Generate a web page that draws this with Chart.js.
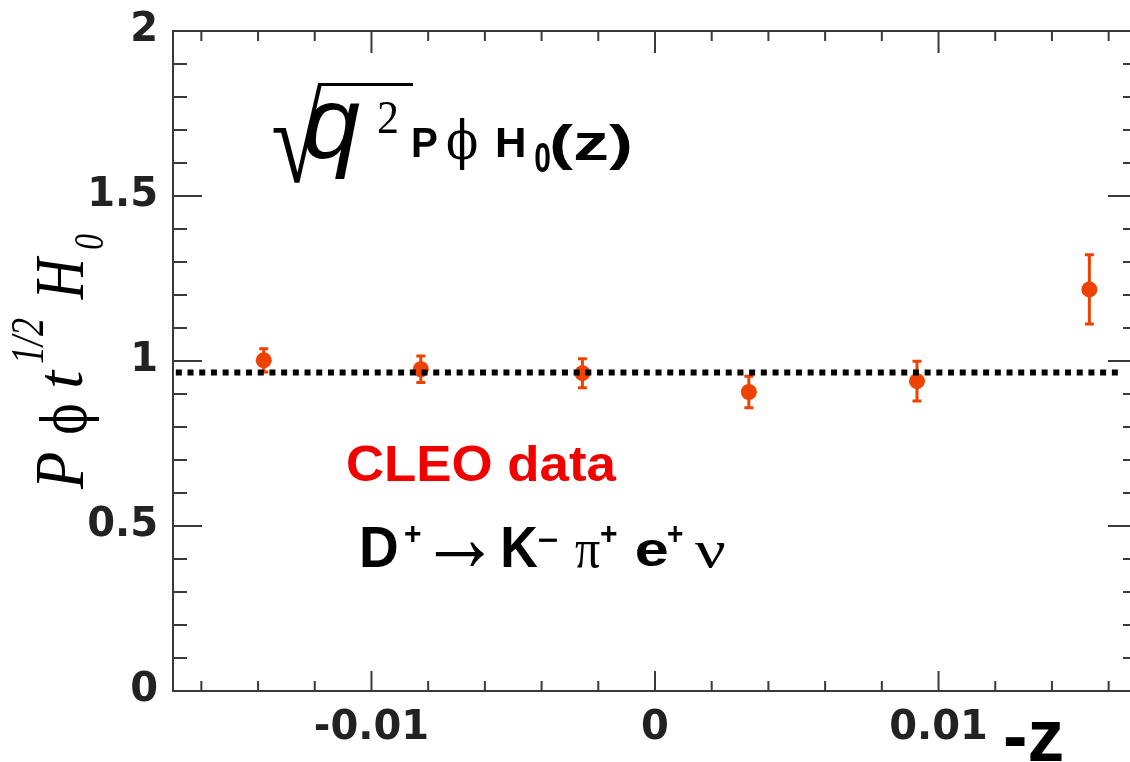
<!DOCTYPE html>
<html>
<head>
<meta charset="utf-8">
<script src="https://cdn.jsdelivr.net/npm/chart.js@4"></script>
<style>
  html, body { margin: 0; padding: 0; overflow: hidden; background: #fff; width: 1130px; height: 762px; }
  #wrap { position: absolute; left: 0; top: 0; width: 1145px; height: 762px; }
</style>
</head>
<body>
<div id="wrap"><canvas id="c" width="1145" height="762"></canvas></div>
<script>
// Measured points: -z, normalised helicity form factor, and its error
const zValues  = [-0.0138, -0.00826, -0.00256, 0.00331, 0.00924, 0.01532];
const h0Values = [1.002, 0.975, 0.963, 0.906, 0.939, 1.217];
const h0Errors = [0.035, 0.040, 0.044, 0.048, 0.060, 0.105];

// Constant reference level (dotted line)
const refLineZ = [-0.0169, 0.0164];
const refLineValue = 0.965;

// Axis labels
const xTickValues = [-0.01, 0, 0.01];
const xTickLabels = ['-0.01', '0', '0.01'];
const yTickValues = [0, 0.5, 1, 1.5, 2];
const yTickLabels = ['0', '0.5', '1', '1.5', '2'];

const markerColor = '#ee4200';
const axisColor = '#3a3a3a';

// Draw a text run so that its ink fills the box (x0,y0)-(x1,y1).
// A null y1 keeps proportions from the width, a null x1 from the height.
function drawBox(ctx, text, font, x0, y0, x1, y1, color) {
  ctx.save();
  ctx.font = font;
  ctx.fillStyle = color || '#000';
  ctx.textAlign = 'left';
  ctx.textBaseline = 'alphabetic';
  const m = ctx.measureText(text);
  const w = m.actualBoundingBoxLeft + m.actualBoundingBoxRight;
  const h = m.actualBoundingBoxAscent + m.actualBoundingBoxDescent;
  let sx = (x1 == null) ? null : (x1 - x0) / w;
  let sy = (y1 == null) ? null : (y1 - y0) / h;
  if (sx == null) sx = sy;
  if (sy == null) sy = sx;
  ctx.translate(x0, y0);
  ctx.scale(sx, sy);
  ctx.fillText(text, m.actualBoundingBoxLeft, m.actualBoundingBoxAscent);
  ctx.restore();
}

// Same, for the vertical axis title: box given in screen coordinates,
// text running bottom-to-top (a null y0 keeps natural proportions).
function drawBoxUp(ctx, text, font, x0, y0, x1, y1, color) {
  ctx.save();
  ctx.rotate(-Math.PI / 2);
  drawBox(ctx, text, font, -y1, x0, (y0 == null) ? null : -y0, x1, color);
  ctx.restore();
}

// Plot frame with inward major/minor ticks on all four sides
const framePlugin = {
  id: 'frame',
  beforeDatasetsDraw(chart) {
    const { ctx, chartArea: a, scales: { x, y } } = chart;
    ctx.save();
    ctx.strokeStyle = axisColor;
    ctx.lineWidth = 2;
    ctx.strokeRect(a.left, a.top, a.right - a.left, a.bottom - a.top);
    ctx.beginPath();
    for (let i = -16; i <= 16; i += 2) {
      const px = x.getPixelForValue(i / 1000);
      const major = i % 10 === 0;
      ctx.moveTo(px, a.bottom); ctx.lineTo(px, a.bottom - (major ? 20 : 10));
      ctx.moveTo(px, a.top);    ctx.lineTo(px, a.top + (major ? 22 : 10));
    }
    for (let i = 0; i <= 20; i++) {
      const py = y.getPixelForValue(i / 10);
      const len = (i % 5 === 0) ? 29 : 14;
      ctx.moveTo(a.left, py);  ctx.lineTo(a.left + len, py);
      ctx.moveTo(a.right, py); ctx.lineTo(a.right - len, py);
    }
    ctx.stroke();
    ctx.restore();
  }
};

// Vertical error bars with small caps
const errorBarPlugin = {
  id: 'errorBars',
  beforeDatasetsDraw(chart) {
    const { ctx, scales: { x, y } } = chart;
    ctx.save();
    ctx.strokeStyle = markerColor;
    ctx.lineWidth = 3;
    zValues.forEach((z, i) => {
      const px = x.getPixelForValue(z);
      const top = y.getPixelForValue(h0Values[i] + h0Errors[i]);
      const bot = y.getPixelForValue(h0Values[i] - h0Errors[i]);
      ctx.beginPath();
      ctx.moveTo(px, top); ctx.lineTo(px, bot);
      ctx.moveTo(px - 4.5, top); ctx.lineTo(px + 4.5, top);
      ctx.moveTo(px - 4.5, bot); ctx.lineTo(px + 4.5, bot);
      ctx.stroke();
    });
    ctx.restore();
  }
};

// Formula, labels and axis titles
const textPlugin = {
  id: 'texts',
  afterDraw(chart) {
    const ctx = chart.ctx;
    const sans = '"Liberation Sans", Arial, sans-serif';
    const serif = '"Liberation Serif", "Times New Roman", serif';
    const greek = '"DejaVu Serif", "Liberation Serif", serif';

    // sqrt(q^2) P phi H_0(z)
    drawBox(ctx, '\u221A', '100px ' + serif, 273, 83, 322, 183);
    ctx.save();
    ctx.strokeStyle = '#000'; ctx.lineWidth = 3;
    ctx.beginPath(); ctx.moveTo(318, 84.5); ctx.lineTo(413, 84.5); ctx.stroke();
    ctx.restore();
    drawBox(ctx, 'q', 'italic 100px ' + sans, 306, 103, null, 180);
    drawBox(ctx, '2', '44px ' + serif, 378, 102, 397, 133);
    drawBox(ctx, 'P', 'bold 42px ' + sans, 413, 127, 437, 157);
    drawBox(ctx, '\u03D5', '52px ' + greek, 447, 117, 477, 170);
    drawBox(ctx, 'H', 'bold 42px ' + sans, 497, 127, 524, 157);
    drawBox(ctx, '0', 'bold 38px ' + sans, 535, 142, 550, 172);
    drawBox(ctx, '(z)', 'bold 48px ' + sans, 552, 123, 630, 170);

    // Experiment label
    drawBox(ctx, 'CLEO data', 'bold 52px ' + sans, 348, 445, 617, 482, '#f20000');

    // Decay channel
    drawBox(ctx, 'D', 'bold 55px ' + sans, 362, 527, 397, 567);
    drawBox(ctx, '+', 'bold 30px ' + sans, 405, 525, 421, 542);
    drawBox(ctx, '\u2192', '56px ' + serif, 435, 542, 484, 567);
    drawBox(ctx, 'K', 'bold 55px ' + sans, 503, 527, 538, 567);
    drawBox(ctx, '\u2212', 'bold 30px ' + sans, 539, 538, 558, 542);
    drawBox(ctx, '\u03C0', '50px ' + serif, 575, 542, 600, 567);
    drawBox(ctx, '+', 'bold 30px ' + sans, 601, 525, 617, 542);
    drawBox(ctx, 'e', 'bold 55px ' + sans, 637, 540, 667, 567);
    drawBox(ctx, '+', 'bold 30px ' + sans, 668, 525, 683, 542);
    drawBox(ctx, '\u03BD', '50px ' + serif, 695, 543, 725, 567);

    // Horizontal axis title
    drawBox(ctx, '-z', 'bold 72px ' + sans, 1005, 722, 1062, null);

    // Vertical axis title: P phi t^(1/2) H_0
    drawBoxUp(ctx, 'P', 'italic 66px ' + serif, 38, 453, 83, 490);
    drawBoxUp(ctx, '\u03D5', '60px ' + greek, 38, 405, 98, 433);
    drawBoxUp(ctx, 't', 'italic 70px ' + serif, 45, null, 83, 386);
    drawBoxUp(ctx, '1/2', 'italic 40px ' + serif, 13, 318, 43, 363);
    drawBoxUp(ctx, 'H', 'italic 68px ' + serif, 38, 255, 83, 300);
    drawBoxUp(ctx, '0', 'italic 40px ' + serif, 75, 234, 103, 249);
  }
};

const tickFont = { family: '"DejaVu Sans", sans-serif', weight: 'bold', size: 40 };

new Chart(document.getElementById('c'), {
  type: 'scatter',
  data: {
    datasets: [
      {
        label: 'CLEO data',
        data: zValues.map((z, i) => ({ x: z, y: h0Values[i] })),
        backgroundColor: markerColor,
        borderColor: markerColor,
        pointRadius: 8,
        pointBorderWidth: 0,
        pointHoverRadius: 8,
        order: 1
      },
      {
        label: 'reference',
        type: 'line',
        showLine: true,
        data: refLineZ.map(z => ({ x: z, y: refLineValue })),
        borderColor: '#000',
        borderWidth: 6,
        borderDash: [6, 5.7],
        borderCapStyle: 'butt',
        pointRadius: 0,
        fill: false,
        order: 0
      }
    ]
  },
  options: {
    responsive: false,
    animation: false,
    devicePixelRatio: 1,
    layout: { padding: { top: 31, right: 3, left: 0, bottom: 0 } },
    plugins: { legend: { display: false }, tooltip: { enabled: false } },
    scales: {
      x: {
        type: 'linear',
        min: -0.017,
        max: 0.017,
        grid: { display: false, drawTicks: false },
        border: { display: false },
        afterBuildTicks: s => { s.ticks = xTickValues.map(v => ({ value: v })); },
        afterFit: s => { s.height = 71; s.paddingLeft = 0; s.paddingRight = 0; },
        ticks: {
          callback: (v, i) => xTickLabels[i],
          font: tickFont,
          color: '#222',
          padding: 14,
          maxRotation: 0,
          autoSkip: false
        }
      },
      y: {
        type: 'linear',
        min: 0,
        max: 2,
        grid: { display: false, drawTicks: false },
        border: { display: false },
        afterBuildTicks: s => { s.ticks = yTickValues.map(v => ({ value: v })); },
        afterFit: s => { s.width = 173; s.paddingTop = 0; s.paddingBottom = 0; },
        ticks: {
          callback: (v, i) => yTickLabels[i],
          font: tickFont,
          color: '#222',
          padding: 15,
          autoSkip: false
        }
      }
    }
  },
  plugins: [framePlugin, errorBarPlugin, textPlugin]
});
</script>
</body>
</html>
